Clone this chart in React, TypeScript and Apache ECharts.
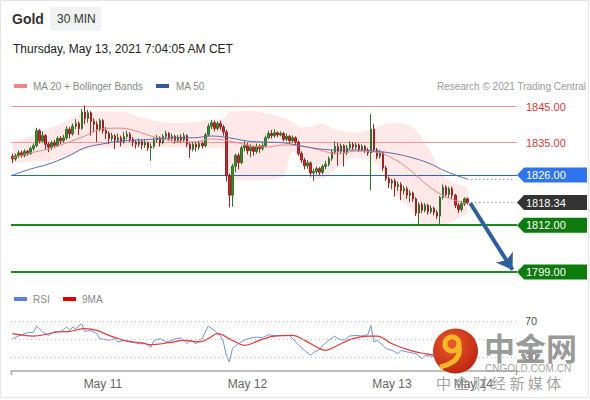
import React, { useEffect, useRef } from "react";
import * as echarts from "echarts";

// ---------- data ----------
const firstOpen = 1831.2;
const closes = [
  1830.5, 1831.4, 1832.2, 1831.5, 1832.6, 1832.0, 1833.4, 1834.2, 1838.4, 1835.5,
  1837.0, 1834.6, 1833.8, 1835.0, 1834.3, 1836.2, 1835.6, 1836.4, 1838.8, 1837.5,
  1839.6, 1840.4, 1839.0, 1843.6, 1841.8, 1843.4, 1841.0, 1840.2, 1838.8, 1841.2,
  1838.4, 1837.6, 1836.2, 1837.0, 1835.8, 1836.4, 1835.2, 1836.8, 1837.4, 1836.0,
  1835.2, 1834.6, 1835.4, 1834.4, 1835.0, 1833.6, 1834.0, 1835.8, 1836.4, 1835.0,
  1836.8, 1837.6, 1836.2, 1836.8, 1835.6, 1836.6, 1835.8, 1837.0, 1834.6, 1833.2,
  1834.6, 1833.8, 1834.8, 1834.2, 1837.2, 1839.6, 1840.6, 1839.0, 1840.4, 1839.4,
  1838.0, 1825.8, 1820.4, 1828.5, 1831.5, 1829.5, 1833.6, 1834.2, 1832.8, 1833.8,
  1832.6, 1834.0, 1833.4, 1834.2, 1836.4, 1837.6, 1837.0, 1837.8, 1837.2, 1837.6,
  1836.0, 1836.8, 1835.6, 1836.4, 1835.2, 1832.0, 1830.2, 1828.6, 1829.4, 1826.6,
  1827.0, 1827.8, 1826.8, 1828.4, 1829.0, 1830.6, 1832.4, 1834.0, 1832.6, 1834.2,
  1832.2, 1833.6, 1834.6, 1833.8, 1834.4, 1833.2, 1834.0, 1833.0, 1832.2, 1838.8,
  1833.0, 1831.2, 1832.2, 1828.0, 1825.0, 1823.8, 1824.4, 1822.8, 1823.4, 1821.6,
  1822.2, 1820.4, 1821.0, 1819.4, 1815.4, 1817.8, 1816.2, 1817.6, 1815.8, 1816.8,
  1815.6, 1814.6, 1819.8, 1822.6, 1820.6, 1822.2, 1820.4, 1817.6, 1816.4, 1818.0,
  1819.4, 1818.34,
];
const highs = [
  1832.0, 1832.0, 1832.9, 1832.8, 1833.2, 1833.0, 1834.0, 1834.8, 1839.2, 1838.9,
  1838.2, 1837.4, 1835.2, 1835.6, 1835.8, 1836.8, 1836.9, 1837.2, 1839.6, 1839.4,
  1840.4, 1841.6, 1841.0, 1844.4, 1845.4, 1844.2, 1843.8, 1841.8, 1841.0, 1841.8,
  1841.6, 1839.4, 1838.2, 1837.8, 1837.4, 1837.6, 1837.0, 1838.0, 1838.4, 1838.0,
  1836.6, 1835.8, 1836.2, 1836.0, 1835.8, 1835.4, 1834.8, 1836.4, 1837.2, 1836.8,
  1837.4, 1838.4, 1838.0, 1837.6, 1837.2, 1837.2, 1837.4, 1837.8, 1837.4, 1835.2,
  1835.4, 1835.2, 1835.6, 1835.4, 1837.8, 1840.4, 1841.4, 1841.2, 1841.0, 1841.2,
  1840.0, 1838.6, 1826.4, 1829.2, 1832.0, 1832.2, 1834.2, 1835.4, 1835.0, 1834.6,
  1834.2, 1834.8, 1834.6, 1835.0, 1837.0, 1838.4, 1838.6, 1838.8, 1838.2, 1838.2,
  1838.0, 1837.6, 1837.2, 1837.0, 1836.8, 1835.6, 1832.6, 1830.8, 1830.2, 1829.8,
  1827.8, 1828.4, 1828.2, 1829.0, 1830.0, 1831.2, 1833.0, 1835.4, 1835.0, 1834.8,
  1834.6, 1834.4, 1835.4, 1835.2, 1835.0, 1834.8, 1834.6, 1834.4, 1833.6, 1843.0,
  1840.2, 1833.6, 1833.0, 1832.6, 1828.6, 1825.6, 1825.0, 1825.0, 1824.2, 1824.0,
  1823.0, 1822.8, 1821.8, 1821.4, 1819.8, 1818.4, 1818.4, 1818.2, 1818.0, 1817.6,
  1817.2, 1816.2, 1820.2, 1823.4, 1823.2, 1822.8, 1822.8, 1820.8, 1818.2, 1818.8,
  1819.8, 1819.8,
];
const lows = [
  1829.4, 1830.0, 1830.8, 1830.9, 1831.0, 1831.4, 1831.6, 1832.8, 1833.8, 1834.8,
  1835.0, 1833.2, 1832.4, 1833.0, 1833.6, 1833.9, 1834.6, 1835.0, 1835.8, 1836.2,
  1837.0, 1838.8, 1837.2, 1838.6, 1840.2, 1840.6, 1837.0, 1838.0, 1835.2, 1838.2,
  1837.6, 1836.0, 1834.6, 1835.4, 1833.2, 1835.0, 1834.0, 1834.8, 1836.0, 1835.2,
  1834.0, 1833.4, 1833.8, 1833.2, 1833.6, 1832.8, 1830.0, 1833.4, 1835.0, 1834.0,
  1834.6, 1836.2, 1835.6, 1835.4, 1834.8, 1835.0, 1835.0, 1835.2, 1833.8, 1830.8,
  1832.6, 1832.6, 1833.0, 1833.4, 1833.8, 1836.8, 1838.8, 1838.2, 1838.4, 1838.6,
  1837.0, 1824.2, 1817.0, 1817.2, 1826.8, 1827.6, 1829.0, 1832.6, 1831.8, 1831.0,
  1831.4, 1832.0, 1832.2, 1832.8, 1833.8, 1836.0, 1836.2, 1836.4, 1836.6, 1836.8,
  1835.4, 1835.4, 1834.8, 1835.0, 1834.4, 1831.4, 1829.4, 1827.6, 1827.8, 1825.6,
  1824.4, 1826.2, 1826.0, 1826.2, 1827.6, 1828.4, 1830.0, 1831.8, 1828.6, 1832.0,
  1828.4, 1831.6, 1833.0, 1833.0, 1833.2, 1832.4, 1832.6, 1832.2, 1831.4, 1821.8,
  1832.4, 1830.4, 1830.6, 1827.2, 1824.4, 1822.4, 1822.0, 1820.0, 1821.6, 1819.0,
  1820.6, 1819.4, 1818.4, 1818.6, 1814.6, 1812.2, 1815.4, 1815.6, 1815.0, 1815.2,
  1814.8, 1813.8, 1812.0, 1819.2, 1819.8, 1819.6, 1819.4, 1816.8, 1815.4, 1815.8,
  1817.4, 1817.8,
];

const bandIdx = [0, 6, 12, 18, 24, 30, 36, 42, 48, 54, 60, 66, 70, 72, 78, 84, 90, 93, 96, 99, 102, 108, 114, 120, 126, 132, 138, 144, 151];
const bandUpper = [1835.0, 1836.9, 1838.9, 1841.1, 1843.3, 1843.6, 1843.6, 1842.2, 1841.1, 1840.5, 1840.8, 1841.4, 1841.7, 1843.6, 1843.9, 1843.3, 1841.9, 1840.8, 1839.4, 1839.4, 1840.3, 1838.6, 1837.8, 1839.1, 1840.5, 1839.7, 1833.6, 1825.2, 1822.7];
const bandLower = [1829.4, 1829.7, 1830.0, 1830.8, 1833.0, 1833.8, 1833.6, 1833.6, 1833.8, 1833.8, 1833.6, 1833.6, 1833.3, 1824.6, 1824.6, 1824.6, 1825.8, 1832.5, 1831.0, 1825.5, 1824.9, 1828.3, 1830.8, 1829.7, 1821.9, 1816.8, 1811.8, 1812.4, 1815.2];

const maIdx = [0, 6, 12, 18, 24, 30, 36, 42, 48, 54, 60, 66, 72, 78, 84, 90, 96, 102, 108, 114, 120, 126, 132, 138, 144, 151];
const ma20 = [1830.8, 1832.2, 1833.3, 1835.0, 1836.9, 1838.9, 1839.1, 1838.0, 1836.4, 1835.5, 1835.2, 1836.1, 1835.5, 1834.4, 1833.8, 1834.4, 1834.1, 1833.0, 1831.9, 1832.7, 1832.5, 1830.8, 1827.4, 1823.0, 1819.9, 1818.0];
const ma50 = [1826.0, 1827.7, 1829.1, 1831.1, 1833.6, 1834.7, 1835.5, 1835.8, 1836.1, 1836.4, 1836.4, 1836.9, 1836.4, 1835.5, 1835.2, 1835.0, 1834.1, 1833.3, 1833.0, 1833.0, 1832.7, 1832.1, 1831.0, 1829.4, 1827.0, 1824.9];

const rsiIdx = [0, 3, 5, 7, 8, 10, 12, 14, 16, 18, 19, 20, 21, 23, 24, 26, 28, 29, 32, 34, 35, 37, 39, 42, 44, 46, 47, 49, 51, 53, 54, 56, 58, 59, 61, 63, 64, 65, 67, 68, 69, 70, 71, 72, 73, 75, 76, 78, 81, 83, 85, 87, 89, 92, 93, 95, 97, 99, 100, 102, 103, 105, 107, 108, 110, 112, 114, 116, 118, 119, 120, 121, 123, 124, 126, 128, 129, 131, 134, 136, 137, 140, 142, 143, 145, 147, 149, 151];
const rsiVal = [50.3, 54.8, 57.0, 57.5, 64.4, 57.8, 54.0, 58.5, 58.0, 63.3, 60.0, 63.0, 61.5, 67.0, 58.5, 59.5, 55.9, 50.4, 48.5, 50.2, 46.7, 48.5, 46.7, 44.8, 44.8, 41.0, 48.5, 50.4, 46.7, 48.5, 50.4, 51.1, 44.8, 48.5, 44.8, 50.4, 57.8, 64.4, 59.6, 56.0, 54.0, 46.7, 31.9, 24.4, 39.3, 44.8, 46.7, 50.4, 52.2, 51.5, 54.8, 53.6, 54.0, 54.0, 50.4, 43.0, 37.4, 31.9, 35.0, 38.5, 43.0, 48.5, 53.3, 50.4, 48.5, 53.3, 54.0, 53.3, 54.8, 65.2, 46.7, 48.5, 43.0, 39.3, 37.4, 33.7, 37.4, 35.6, 33.7, 28.0, 31.9, 30.5, 40.0, 46.0, 44.0, 38.0, 40.0, 39.0];
const rsiMaIdx = [0, 7, 15, 19, 24, 28, 32, 37, 43, 46, 52, 57, 62, 65, 68, 73, 77, 82, 87, 93, 97, 102, 104, 108, 113, 118, 121, 126, 132, 137, 141, 146, 151];
const rsiMa = [55.9, 53.3, 57.8, 58.5, 61.5, 59.6, 54.0, 48.5, 45.6, 43.7, 45.9, 48.5, 46.7, 50.4, 55.9, 48.5, 43.0, 48.5, 53.3, 54.0, 48.5, 39.3, 37.4, 43.0, 50.4, 53.3, 53.3, 44.8, 37.4, 33.7, 31.9, 34.0, 36.0];

const redLevels = [1845, 1835];
const blueLevel = 1826;
const greenLevels = [1812, 1799];
const lastPrice = 1818.34;
const arrowEnd = 1799.6;
const rsiLevels = [70, 50, 30];
const xTickIdx = [30, 78, 126, 153];
const xTickLabels = ["May 11", "May 12", "May 13", "May 14"];
const SLOTS = 168;

const FONT = '"Liberation Sans", Arial, sans-serif';

export default function App() {
  const ref = useRef<HTMLDivElement>(null);

  useEffect(() => {
    if (!ref.current) return;
    const chart = echarts.init(ref.current, undefined, { renderer: "svg" });
    const slots = Array.from({ length: SLOTS }, (_, i) => String(i));
    const opens = closes.map((c, i) => (i === 0 ? firstOpen : closes[i - 1]));
    const candleData = closes.map((c, i) => [opens[i], c, lows[i], highs[i]]);
    const pairs = (idx: number[], vals: number[]) => idx.map((x, k) => [x, vals[k]]);
    const lastIdx = closes.length - 1;
    const ma50Last = ma50[ma50.length - 1];
    const anchor = [[lastIdx, lastPrice]];

    const helper = (name: string, lineStyle: any, data: any[], extra: any = {}) => ({
      type: "line",
      name,
      data: anchor,
      symbol: "none",
      lineStyle: { opacity: 0 },
      silent: true,
      z: 2,
      markLine: {
        silent: true,
        symbol: "none",
        label: { show: false },
        lineStyle,
        data,
        ...extra,
      },
    });

    const option: any = {
      animation: false,
      backgroundColor: "#ffffff",
      textStyle: { fontFamily: FONT },
      grid: [
        { left: 11, width: 506, top: 96.2, height: 186.5, outerBoundsMode: "none" },
        { left: 11, width: 506, top: 307.5, height: 63, outerBoundsMode: "none" },
      ],
      xAxis: [
        { type: "category", gridIndex: 0, data: slots, show: false, boundaryGap: true },
        {
          type: "category",
          gridIndex: 1,
          data: slots,
          boundaryGap: true,
          axisLine: { show: true, lineStyle: { color: "#aaaaaa", width: 1.5 } },
          axisTick: { show: false },
          splitLine: { show: false },
          axisLabel: {
            interval: (i: number) => xTickIdx.includes(i),
            formatter: (_v: string, i: number) => {
              const k = xTickIdx.indexOf(i);
              return k >= 0 ? xTickLabels[k] : "";
            },
            color: "#666666",
            fontSize: 12,
            margin: 7,
            fontFamily: FONT,
          },
        },
      ],
      yAxis: [
        { type: "value", gridIndex: 0, min: 1796, max: 1848, show: false, splitLine: { show: false } },
        { type: "value", gridIndex: 1, min: 15, max: 85, show: false, splitLine: { show: false } },
      ],
      series: [
        {
          type: "line",
          name: "bandLower",
          stack: "bb",
          data: pairs(bandIdx, bandLower),
          smooth: 0.4,
          symbol: "none",
          lineStyle: { opacity: 0 },
          silent: true,
          z: 1,
        },
        {
          type: "line",
          name: "bandWidth",
          stack: "bb",
          data: bandIdx.map((x, k) => [x, bandUpper[k] - bandLower[k]]),
          smooth: 0.4,
          symbol: "none",
          lineStyle: { opacity: 0 },
          areaStyle: { color: "rgba(252,200,200,0.6)" },
          silent: true,
          z: 1,
        },
        helper("lastDots", { color: "#777777", width: 1, type: [1, 3] }, [
          [{ coord: [lastIdx, lastPrice] }, { coord: [SLOTS - 1, lastPrice] }],
        ]),
        helper("ma50Dots", { color: "#5a78b8", width: 1, type: [1, 3] }, [
          [{ coord: [lastIdx, ma50Last] }, { coord: [SLOTS - 1, ma50Last] }],
        ]),
        {
          type: "candlestick",
          name: "Gold",
          data: candleData,
          barWidth: 2,
          z: 3,
          itemStyle: {
            color: "#3f8a2e",
            color0: "#c62a2a",
            borderColor: "#356e28",
            borderColor0: "#9a2424",
            borderWidth: 1,
          },
        },
        {
          type: "line",
          name: "MA 20",
          data: pairs(maIdx, ma20),
          smooth: 0.4,
          symbol: "none",
          lineStyle: { color: "#f08484", width: 1 },
          z: 4,
        },
        {
          type: "line",
          name: "MA 50",
          data: pairs(maIdx, ma50),
          smooth: 0.4,
          symbol: "none",
          lineStyle: { color: "#5371b0", width: 1 },
          z: 4,
        },
        helper(
          "arrow",
          { color: "#2e5e9c", width: 4, type: "solid" },
          [[{ coord: [lastIdx + 1, lastPrice - 0.2] }, { coord: [SLOTS - 2, arrowEnd] }]],
          { symbol: ["none", "arrow"], symbolSize: 15 }
        ),
        {
          type: "line",
          name: "RSI",
          xAxisIndex: 1,
          yAxisIndex: 1,
          data: pairs(rsiIdx, rsiVal),
          symbol: "none",
          lineStyle: { color: "#7294e0", width: 1 },
          z: 3,
          markLine: {
            silent: true,
            symbol: "none",
            lineStyle: { color: "#bdbdbd", width: 1, type: [1, 3] },
            data: rsiLevels.map((v) => ({
              yAxis: v,
              label: {
                show: v !== 50,
                position: "end",
                formatter: String(v),
                color: "#555555",
                fontSize: 11,
                distance: 8,
              },
            })),
          },
        },
        {
          type: "line",
          name: "9MA",
          xAxisIndex: 1,
          yAxisIndex: 1,
          data: pairs(rsiMaIdx, rsiMa),
          smooth: 0.4,
          symbol: "none",
          lineStyle: { color: "#e33a3a", width: 1.2 },
          z: 4,
        },
      ],
    };
    chart.setOption(option);

    const yOf = (v: number) => chart.convertToPixel({ yAxisIndex: 0 }, v) as number;
    const crisp = (y: number) => Math.floor(y) + 0.5;
    const hLine = (v: number, stroke: string, lineWidth: number) => {
      const y = lineWidth % 2 === 1 ? crisp(yOf(v)) : Math.round(yOf(v));
      return { type: "line", shape: { x1: 11, y1: y, x2: 517, y2: y }, style: { stroke, lineWidth }, z: 2, silent: true };
    };
    const box = (v: number, fill: string, text: string) => {
      const y = yOf(v);
      return [
        {
          type: "polygon",
          shape: { points: [[517, y], [524, y - 7.5], [587, y - 7.5], [587, y + 7.5], [524, y + 7.5]] },
          style: { fill },
          z: 50,
        },
        {
          type: "text",
          style: { text, x: 526, y, fill: "#ffffff", fontSize: 11, fontFamily: FONT, verticalAlign: "middle", align: "left" },
          z: 51,
        },
      ];
    };

    const logoGrad = new echarts.graphic.RadialGradient(0.4, 0.35, 0.75, [
      { offset: 0, color: "#ea5a2c" },
      { offset: 1, color: "#b9200f" },
    ]);

    const graphic: any[] = [
      { type: "rect", shape: { x: 0.5, y: 0.5, width: 588, height: 397 }, style: { fill: "none", stroke: "#e6e6e6", lineWidth: 1 }, z: 0 },
      { type: "text", style: { text: "Gold", x: 12, y: 19, fill: "#333333", fontSize: 14, fontWeight: "bold", fontFamily: FONT, verticalAlign: "middle" } },
      { type: "rect", shape: { x: 50, y: 7, width: 51, height: 24, r: 2 }, style: { fill: "#f1f2f3" } },
      { type: "text", style: { text: "30 MIN", x: 57, y: 19, fill: "#333333", fontSize: 12, fontFamily: FONT, verticalAlign: "middle" } },
      { type: "text", style: { text: "Thursday, May 13, 2021 7:04:05 AM CET", x: 13, y: 49, fill: "#222222", fontSize: 12, fontFamily: FONT, verticalAlign: "middle" } },
      { type: "rect", shape: { x: 14, y: 84, width: 13, height: 4 }, style: { fill: "#f28585" } },
      { type: "text", style: { text: "MA 20 + Bollinger Bands", x: 33, y: 86, fill: "#888888", fontSize: 10, fontFamily: FONT, verticalAlign: "middle" } },
      { type: "rect", shape: { x: 156, y: 84, width: 13, height: 4 }, style: { fill: "#35589c" } },
      { type: "text", style: { text: "MA 50", x: 176, y: 86, fill: "#888888", fontSize: 10, fontFamily: FONT, verticalAlign: "middle" } },
      { type: "text", style: { text: "Research \u00a9 2021 Trading Central", x: 586, y: 86, fill: "#9a9a9a", fontSize: 10, fontFamily: FONT, verticalAlign: "middle", align: "right" } },
      { type: "rect", shape: { x: 14, y: 297, width: 13, height: 4 }, style: { fill: "#5a7fdc" } },
      { type: "text", style: { text: "RSI", x: 33, y: 299, fill: "#888888", fontSize: 10, fontFamily: FONT, verticalAlign: "middle" } },
      { type: "rect", shape: { x: 63, y: 297, width: 13, height: 4 }, style: { fill: "#e00000" } },
      { type: "text", style: { text: "9MA", x: 82, y: 299, fill: "#888888", fontSize: 10, fontFamily: FONT, verticalAlign: "middle" } },
      { type: "line", shape: { x1: 11.5, y1: 370.5, x2: 11.5, y2: 375 }, style: { stroke: "#aaaaaa", lineWidth: 1.5 } },
      { type: "line", shape: { x1: 516.5, y1: 370.5, x2: 516.5, y2: 375 }, style: { stroke: "#aaaaaa", lineWidth: 1.5 } },
      ...redLevels.map((v) => hLine(v, "#f09a9a", 1)),
      hLine(blueLevel, "#2a62d0", 1),
      ...greenLevels.map((v) => hLine(v, "#1b8a1b", 2)),
      ...redLevels.map((v) => ({
        type: "text",
        style: { text: v.toFixed(2), x: 526, y: yOf(v), fill: "#d83a3a", fontSize: 11, fontFamily: FONT, verticalAlign: "middle" },
        z: 51,
      })),
      ...box(blueLevel, "#2f74ee", blueLevel.toFixed(2)),
      ...box(lastPrice, "#333333", lastPrice.toFixed(2)),
      ...greenLevels.flatMap((v) => box(v, "#0d7a0d", v.toFixed(2))),
      // watermark
      { type: "circle", shape: { cx: 455.5, cy: 351, r: 22.5 }, style: { fill: logoGrad }, z: 90 },
      { type: "arc", shape: { cx: 452, cy: 344, r: 7, startAngle: 0, endAngle: Math.PI * 2 }, style: { stroke: "#f7b825", lineWidth: 5, fill: "none" }, z: 91 },
      { type: "bezierCurve", shape: { x1: 459, y1: 346, cpx1: 462, cpy1: 362, x2: 440, y2: 367 }, style: { stroke: "#f7b825", lineWidth: 5, fill: "none" }, z: 91 },
      { type: "text", style: { text: "中金网", x: 484, y: 346, fill: "rgba(140,140,140,0.9)", fontSize: 31, fontWeight: "bold", fontFamily: '"Noto Sans CJK SC", sans-serif', verticalAlign: "middle" }, z: 90 },
      { type: "text", style: { text: "CNGOLD.COM.CN", x: 485, y: 368, fill: "rgba(150,150,150,0.9)", fontSize: 10, fontFamily: FONT, verticalAlign: "middle" }, z: 90 },
      { type: "text", style: { text: "中 金 财 经 新 媒 体", x: 436, y: 382, fill: "rgba(150,150,150,0.9)", fontSize: 15, fontFamily: '"Noto Sans CJK SC", sans-serif', verticalAlign: "middle" }, z: 90 },
    ];
    chart.setOption({ graphic });

    return () => chart.dispose();
  }, []);

  return (
    <div
      ref={ref}
      style={{ position: "fixed", left: 0, top: 0, width: 590, height: 400, background: "#ffffff" }}
    />
  );
}
